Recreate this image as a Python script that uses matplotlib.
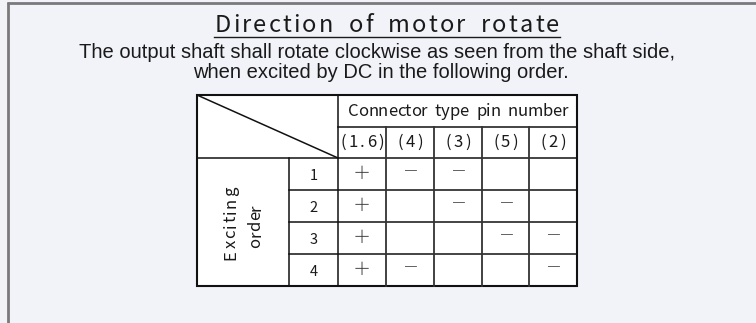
import matplotlib
matplotlib.use("Agg")
import matplotlib.pyplot as plt
from matplotlib import font_manager as fm
from matplotlib.font_manager import FontProperties
from matplotlib.patches import Rectangle

# ---------------- data ----------------
title = "Direction of motor rotate"
subtitle_lines = ["The output shaft shall rotate clockwise as seen from the shaft side,",
                  "when excited by DC in the following order."]
group_header = "Connector type pin number"
pin_columns = ["(1.6)", "(4)", "(3)", "(5)", "(2)"]
row_axis_label = ["Exciting", "order"]
exciting_steps = ["1", "2", "3", "4"]
step1 = ["+", "-", "-", "", ""]
step2 = ["+", "", "-", "-", ""]
step3 = ["+", "", "", "-", "-"]
step4 = ["+", "-", "", "", "-"]
signs = [step1, step2, step3, step4]
sign_glyph = {"+": "\uff0b", "-": "\u2015"}

# ---------------- layout ----------------
W, H = 756, 323
BG = "#f2f3f8"
INK = "#1a1a1a"
x_edges = [197, 289, 338, 386, 434, 482, 529, 577]
y_edges = [95, 127, 158, 190, 222, 254, 286]

avail = {f.name for f in fm.fontManager.ttflist}
def pick(*names):
    for n in names:
        if n in avail:
            return n
    return "DejaVu Sans"

CJK = pick("Noto Sans CJK JP", "Noto Sans")
NARROW = pick("Liberation Sans Narrow", "Liberation Sans")

fig = plt.figure(figsize=(W / 100, H / 100), dpi=100, facecolor=BG)
ax = fig.add_axes([0, 0, 1, 1])
ax.set_xlim(0, W)
ax.set_ylim(H, 0)
ax.axis("off")
ax.set_facecolor(BG)
renderer = fig.canvas.get_renderer()

def px_width(s, prop):
    w, h, d = renderer.get_text_width_height_descent(s, prop, ismath=False)
    return w

def tracked(s, cx, cy, prop, total_width=None, tracking=0.0, rotation=0, **kw):
    widths = [px_width(c, prop) if c != " " else px_width("n", prop) * 0.8 for c in s]
    nat = sum(widths)
    if total_width is not None and len(s) > 1:
        tracking = (total_width - nat) / (len(s) - 1)
    tot = nat + tracking * (len(s) - 1)
    pos = -tot / 2
    for c, w in zip(s, widths):
        mid = pos + w / 2
        if rotation == 90:
            x, y = cx, cy - mid
        else:
            x, y = cx + mid, cy
        if c != " ":
            ax.text(x, y, c, fontproperties=prop, ha="center", va="center",
                    rotation=rotation, color=INK, **kw)
        pos += w + tracking
    return tot

# outer frame lines (top and left only)
ax.plot([7, W], [2.5, 2.5], color="#7a7a7a", lw=2.0, solid_capstyle="butt")
ax.plot([7.5, 7.5], [2, H], color="#7a7a7a", lw=2.0, solid_capstyle="butt")

# title
tprop = FontProperties(family=CJK, size=17)
tw = tracked(title, 387, 25.5, tprop, total_width=344)
ax.plot([387 - tw / 2 - 1, 387 + tw / 2 + 1], [37, 37], color=INK, lw=1.0)

# subtitle
sprop = FontProperties(family=NARROW, size=14.5)
ax.text(377, 52, subtitle_lines[0], fontproperties=sprop, ha="center", va="center", color=INK)
ax.text(381, 72.5, subtitle_lines[1], fontproperties=sprop, ha="center", va="center", color=INK)

# table
x0, x1 = x_edges[0], x_edges[-1]
y0, y1 = y_edges[0], y_edges[-1]
ax.add_patch(Rectangle((x0, y0), x1 - x0, y1 - y0, facecolor="white", edgecolor="none"))
lw_in = 1.1
lc = "#111111"
ax.plot([x_edges[2], x1], [y_edges[1]] * 2, color=lc, lw=lw_in)
ax.plot([x0, x1], [y_edges[2]] * 2, color=lc, lw=lw_in)
for y in y_edges[3:-1]:
    ax.plot([x_edges[1], x1], [y, y], color=lc, lw=lw_in)
ax.plot([x_edges[2]] * 2, [y0, y1], color=lc, lw=lw_in)
ax.plot([x_edges[1]] * 2, [y_edges[2], y1], color=lc, lw=lw_in)
for x in x_edges[3:-1]:
    ax.plot([x, x], [y_edges[1], y1], color="#333333", lw=1.3)
ax.plot([x0, x_edges[2]], [y0, y_edges[2]], color=lc, lw=lw_in)
ax.add_patch(Rectangle((x0, y0), x1 - x0, y1 - y0, facecolor="none", edgecolor=lc, lw=1.5))

# header texts
hprop = FontProperties(family=CJK, size=12)
tracked(group_header, (x_edges[2] + x1) / 2 + 0.5, (y_edges[0] + y_edges[1]) / 2, hprop,
        total_width=220)
for j, lab in enumerate(pin_columns):
    cx = (x_edges[2 + j] + x_edges[3 + j]) / 2
    tracked(lab, cx, (y_edges[1] + y_edges[2]) / 2, hprop, tracking=2.2)

# row axis label (rotated, two lines)
rprop = FontProperties(family=CJK, size=12)
tracked(row_axis_label[0], 231, 223, rprop, total_width=73, rotation=90)
tracked(row_axis_label[1], 256, 226, rprop, total_width=43, rotation=90)

nprop = FontProperties(family=CJK, size=10.5)
plus_prop = FontProperties(family=CJK, size=13, weight="light")
minus_prop = FontProperties(family=CJK, size=10, weight="light")
for i, step in enumerate(exciting_steps):
    cy = (y_edges[2 + i] + y_edges[3 + i]) / 2
    ax.text((x_edges[1] + x_edges[2]) / 2, cy + 2.5, step, fontproperties=nprop,
            ha="center", va="center", color=INK)
    for j, s in enumerate(signs[i]):
        if s:
            cx = (x_edges[2 + j] + x_edges[3 + j]) / 2
            ax.text(cx, cy - (2 if s == "-" else 0), sign_glyph[s],
                    fontproperties=plus_prop if s == "+" else minus_prop,
                    ha="center", va="center", color="#333333")

fig.savefig("out.png", dpi=100, facecolor=BG)
